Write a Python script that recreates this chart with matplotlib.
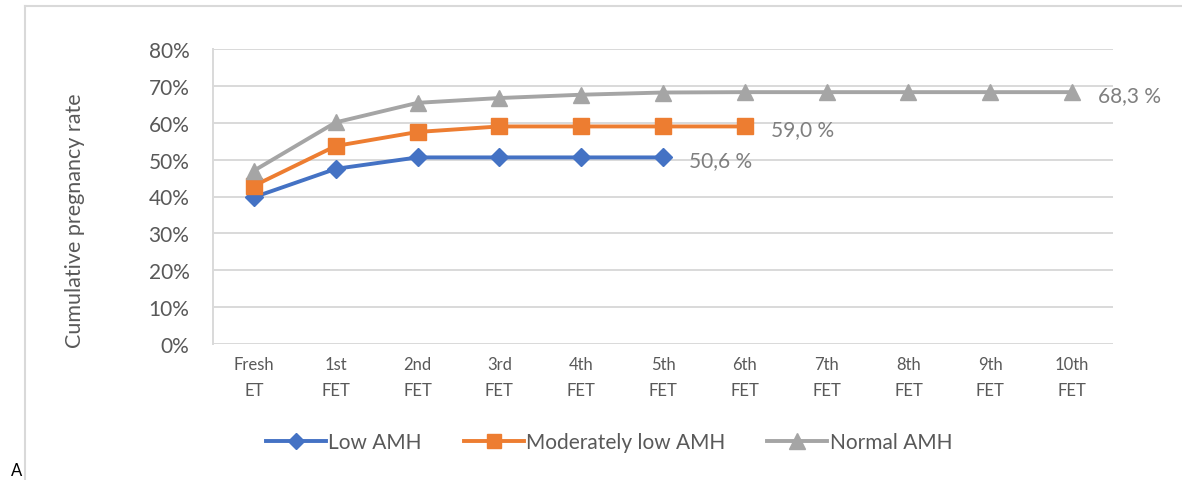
import matplotlib.pyplot as plt
from matplotlib.lines import Line2D

plt.rcParams['font.family'] = ['Lato', 'DejaVu Sans']

categories = ["Fresh\nET", "1st\nFET", "2nd\nFET", "3rd\nFET", "4th\nFET", "5th\nFET",
              "6th\nFET", "7th\nFET", "8th\nFET", "9th\nFET", "10th\nFET"]
low_amh = [39.8, 47.5, 50.6, 50.6, 50.6, 50.6]
moderate_amh = [42.9, 53.7, 57.5, 59.0, 59.0, 59.0, 59.0]
normal_amh = [47.0, 60.1, 65.4, 66.7, 67.6, 68.2, 68.3, 68.3, 68.3, 68.3, 68.3]
end_labels = ["50,6 %", "59,0 %", "68,3 %"]

blue = '#4472C4'
orange = '#ED7D31'
gray = '#A5A5A5'
text_gray = '#595959'

fig = plt.figure(figsize=(11.82, 4.81), dpi=100)
ax = fig.add_axes([213 / 1182, 1 - 345 / 481, 900 / 1182, 295 / 481])

series = [
    (low_amh, blue, 'D', 9, "Low AMH"),
    (moderate_amh, orange, 's', 11, "Moderately low AMH"),
    (normal_amh, gray, '^', 12, "Normal AMH"),
]
handles = []
for (vals, col, mk, ms, name), lab in zip(series, end_labels):
    x = list(range(len(vals)))
    ax.plot(x, vals, color=col, lw=2.8, marker=mk, markersize=ms, zorder=3)
    ax.annotate(lab, (x[-1], vals[-1]), xytext=(19, -2), textcoords='offset points',
                ha='left', va='center', fontsize=15, color='#7F7F7F')
    handles.append(Line2D([], [], color=col, lw=2.8, marker=mk, markersize=ms - 1, label=name))

ax.set_xlim(-0.5, len(categories) - 0.5)
ax.set_ylim(0, 80)
ax.set_yticks(range(0, 81, 10))
ax.set_yticklabels([f"{v}%" for v in range(0, 81, 10)])
ax.set_xticks(range(len(categories)))
ax.set_xticklabels(categories, linespacing=1.7)
ax.tick_params(axis='x', length=0, pad=9, labelsize=12, labelcolor=text_gray)
ax.tick_params(axis='y', length=0, pad=17, labelsize=15, labelcolor=text_gray)
ax.yaxis.grid(True, color='#D9D9D9', lw=1.4)
ax.set_axisbelow(True)
for s in ['top', 'right', 'bottom']:
    ax.spines[s].set_visible(False)
ax.spines['left'].set_color('#D9D9D9')
ax.spines['left'].set_linewidth(1.4)
ax.set_ylabel("Cumulative pregnancy rate", fontsize=15.5, color=text_gray)
ax.yaxis.set_label_coords(-0.142, 0.42)

fig.legend(handles=handles, loc='center', bbox_to_anchor=(609 / 1182, 1 - 443 / 481),
           ncol=3, frameon=False, fontsize=15, handlelength=2.9, handletextpad=0.1,
           columnspacing=2.0, labelcolor=text_gray)

# chart frame
fig.add_artist(Line2D([25 / 1182, 1], [1 - 7 / 481] * 2, color='#D9D9D9', lw=1.5))
fig.add_artist(Line2D([25 / 1182] * 2, [0, 1 - 7 / 481], color='#D9D9D9', lw=1.5))
fig.text(11 / 1182, 1 - 471 / 481, "A", fontsize=12, color='black', va='center')

fig.savefig('out.png', dpi=100)
